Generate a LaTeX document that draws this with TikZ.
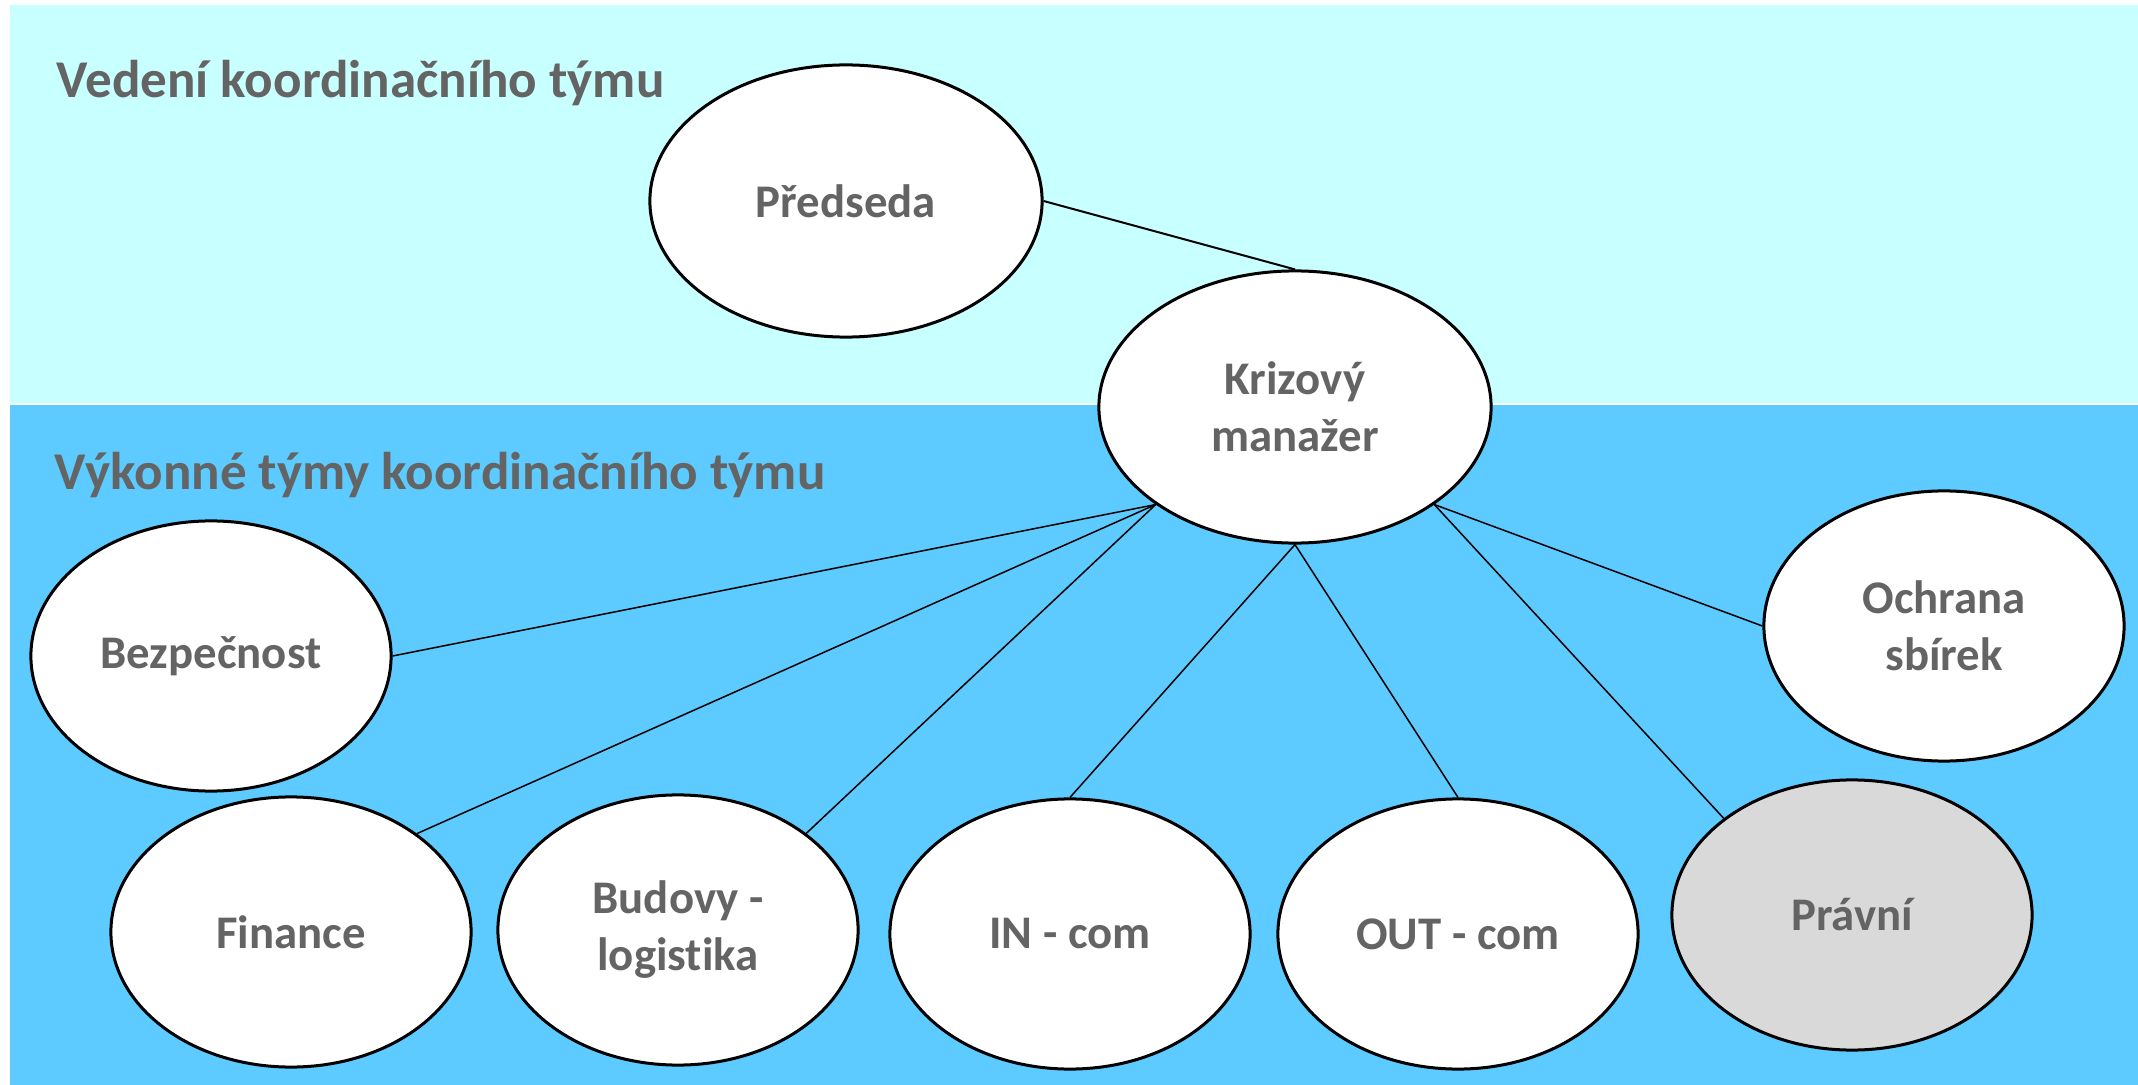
\documentclass[tikz,border=0pt]{standalone}
\usepackage{fontspec}
\setmainfont{Carlito}[Ligatures={NoCommon,NoContextual,NoRare},Contextuals=NoAlternate]
\usetikzlibrary{shapes.geometric}

\definecolor{vedenibg}{HTML}{C8FFFF}
\definecolor{vykonnebg}{HTML}{5DCBFF}
\definecolor{textgray}{HTML}{646464}
\definecolor{pravnifill}{HTML}{D9D9D9}

\tikzset{
  teamtitle/.style={anchor=base west, inner sep=0pt, text=textgray,
    font=\fontsize{15.1}{18}\selectfont\bfseries},
  role/.style={ellipse, draw=black, line width=0.03cm, fill=white,
    minimum width=3.6cm, minimum height=2.7cm, inner sep=0pt,
    align=center, text=textgray,
    font=\fontsize{13.3}{16.2}\selectfont\bfseries},
  bigrole/.style={role, minimum width=3.92cm, minimum height=2.72cm},
  link/.style={draw=black, line width=0.015cm},
}

\begin{document}
\begin{tikzpicture}[x=0.01cm,y=-0.01cm]
        \useasboundingbox (0,0) rectangle (2138,1085);
        
        % Drawing background bands
        \fill [vedenibg] (10,5) rectangle (2138,403.5);%
        \fill [vykonnebg] (10,405) rectangle (2138,1085);%
        
        % Band titles
        \node [teamtitle] (vedeni) at (56,98) {Vedení koordinačního týmu};%
        \node [teamtitle] (vykonne) at (54,490) {Výkonné týmy koordinačního týmu};%
        
        % Leading roles
        \node [bigrole] (predseda) at (846,201) {Předseda};%
        \node [bigrole] (krizovy) at (1295,407) {Krizový\\manažer};%
        
        % Executive teams
        \node [role] (bezpecnost) at (211,656) {Bezpečnost};%
        \node [role] (finance) at (291,932) {Finance};%
        \node [role] (budovy) at (678,930) {Budovy -\\logistika};%
        \node [role] (incom) at (1070,934) {IN - com};%
        \node [role] (outcom) at (1458,934) {OUT - com};%
        \node [role, fill=pravnifill] (pravni) at (1852,915) {Právní};%
        \node [role] (ochrana) at (1944,626) {Ochrana\\sbírek};%
        
        % Drawing links from Krizový manažer
        \draw [link, line width=0.02cm] (predseda.east) -- (krizovy.north);%
        \draw [link] (krizovy.215) -- (bezpecnost.east);%
        \draw [link] (krizovy.215) -- (finance.38);%
        \draw [link] (krizovy.215) -- (budovy.37);%
        \draw [link] (krizovy.south) -- (incom.north);%
        \draw [link] (krizovy.south) -- (outcom.north);%
        \draw [link] (krizovy.325) -- (pravni.143);%
        \draw [link] (krizovy.325) -- (ochrana.west);%
\end{tikzpicture}
\end{document}
